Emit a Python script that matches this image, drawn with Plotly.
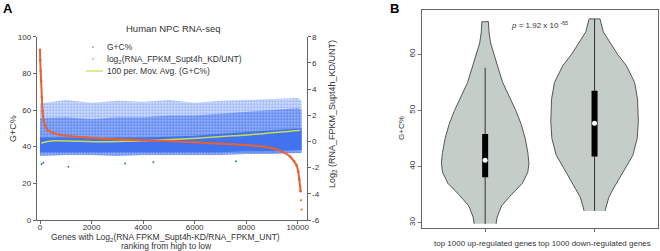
import plotly.graph_objects as go

W, H = 660, 251
FONT = "Liberation Sans, Arial, sans-serif"
TXT = "#333333"

# ---------------- Panel A data ----------------
# G+C% point cloud summarised per rank bin (edges of the cloud / dense core)
cloud_rank = [0, 1000, 2000, 3000, 4000, 5000, 6000, 7000, 8000, 9000, 10000, 10150]
gc_top = [63.5, 65.5, 64.0, 65.0, 64.5, 65.5, 64.0, 65.0, 65.5, 66.0, 66.5, 65.0]
gc_mid_top = [55.5, 56.0, 55.0, 56.0, 56.0, 57.0, 57.0, 58.0, 59.0, 60.0, 61.0, 60.0]
gc_core_top = [45.0, 45.0, 44.5, 45.0, 45.0, 45.5, 46.0, 47.0, 48.0, 49.0, 50.0, 50.0]
gc_core_bot = [37.0, 37.0, 37.0, 37.0, 37.0, 37.0, 37.0, 37.0, 37.5, 37.5, 38.0, 38.0]
gc_bottom = [35.0, 35.5, 35.5, 35.0, 35.5, 35.5, 35.5, 35.5, 36.0, 36.0, 36.5, 36.5]
gc_out_rank = [60, 130, 1100, 3300, 4400, 7600]
gc_out = [30.5, 31.2, 29.0, 30.8, 31.5, 32.0]

# log2(KD/UNT) sorted from high to low
lfc_rank = [0, 10, 25, 45, 70, 100, 140, 200, 300, 500, 800, 1200, 1800, 2500, 3500,
            5000, 6000, 7000, 7500, 8000, 8700, 9000, 9400, 9700, 9850, 9950, 10020,
            10060, 10090, 10110]
lfc = [7.0, 6.2, 5.4, 4.6, 3.4, 2.3, 1.6, 1.2, 0.85, 0.65, 0.5, 0.4, 0.3, 0.2, 0.13,
       0.03, -0.07, -0.17, -0.22, -0.28, -0.4, -0.5, -0.78, -1.15, -1.5, -1.8, -2.3,
       -2.9, -3.4, -3.8]
lfc_out_rank = [10130, 10150]
lfc_out = [-4.5, -5.2]

# 100 per. moving average of G+C%
ma_rank = [50, 500, 1500, 2500, 3500, 4500, 5500, 6500, 7500, 8500, 9500, 10100]
ma_gc = [42.0, 43.2, 43.0, 42.7, 43.0, 43.5, 44.2, 45.0, 45.9, 46.9, 48.2, 49.0]

xa_ticks = [0, 2000, 4000, 6000, 8000, 10000]
xa_text = ["0", "2000", "4000", "6000", "8000", "10000"]
ya_ticks = [0, 20, 40, 60, 80, 100]
y2_ticks = [-6, -4, -2, 0, 2, 4, 6, 8]
y2_text = ["-6", "-4", "-2", "0", "2", "4", "6", "8"]

# ---------------- Panel B data ----------------
categories = ["top 1000 up-regulated genes", "top 1000 down-regulated genes"]
v1_gc = [29.8, 31, 33, 35, 37, 39, 40.6, 42.5, 45, 47.5, 50, 52.5, 55, 57.5, 60, 62, 64, 65.8]
v1_hw = [0.10, 0.11, 0.15, 0.24, 0.34, 0.39, 0.40, 0.39, 0.366, 0.33, 0.28, 0.22, 0.16,
         0.12, 0.08, 0.05, 0.035, 0.03]
v2_gc = [32.1, 33, 34.5, 36, 39, 42, 45, 48, 52, 55, 58, 60, 62, 64, 66.3]
v2_hw = [0.096, 0.107, 0.13, 0.17, 0.26, 0.35, 0.39, 0.40, 0.393, 0.366, 0.29, 0.21,
         0.145, 0.08, 0.05]
box_q1 = [38.1, 41.8]
box_med = [41.1, 47.7]
box_q3 = [45.8, 53.5]
whisk_lo = [29.8, 32.1]
whisk_hi = [57.6, 66.3]
yb_ticks = [30, 40, 50, 60]

BLUE = "#3b6ef0"
ORANGE = "#e8612f"
GREEN = "#cadb4e"
VIOLIN = "#c5cdc9"


def px(x):
    return x / W


def py(y):
    return 1 - y / H


def band(xs, lo, hi):
    return xs + xs[::-1], hi + lo[::-1]


fig = go.Figure()

# cloud layers
bx, by = band(cloud_rank, gc_bottom, gc_top)
fig.add_trace(go.Scatter(x=bx, y=by, fill="toself", mode="lines", line=dict(width=0),
                         fillpattern=dict(shape=".", fgcolor=BLUE,
                                          bgcolor="rgba(59,110,240,0.22)",
                                          size=3, solidity=0.4),
                         hoverinfo="skip", showlegend=False, xaxis="x", yaxis="y"))
bx, by = band(cloud_rank, gc_bottom, gc_mid_top)
fig.add_trace(go.Scatter(x=bx, y=by, fill="toself", mode="lines", line=dict(width=0),
                         fillpattern=dict(shape=".", fgcolor=BLUE,
                                          bgcolor="rgba(59,110,240,0.32)",
                                          size=3, solidity=0.5),
                         hoverinfo="skip", showlegend=False, xaxis="x", yaxis="y"))
bx, by = band(cloud_rank, gc_core_bot, gc_core_top)
fig.add_trace(go.Scatter(x=bx, y=by, fill="toself", mode="lines", line=dict(width=0),
                         fillcolor="rgba(59,110,240,0.9)",
                         hoverinfo="skip", showlegend=False, xaxis="x", yaxis="y"))
fig.add_trace(go.Scatter(x=gc_out_rank, y=gc_out, mode="markers",
                         marker=dict(size=2, color=BLUE), showlegend=False,
                         xaxis="x", yaxis="y"))

# log2 fold change
fig.add_trace(go.Scatter(x=lfc_rank, y=lfc, mode="lines+markers",
                         line=dict(color=ORANGE, width=2, shape="spline", smoothing=0.6),
                         marker=dict(size=2.5, color=ORANGE),
                         showlegend=False, xaxis="x", yaxis="y2"))
fig.add_trace(go.Scatter(x=lfc_out_rank, y=lfc_out, mode="markers",
                         marker=dict(size=2, color=ORANGE), showlegend=False,
                         xaxis="x", yaxis="y2"))
# moving average
fig.add_trace(go.Scatter(x=ma_rank, y=ma_gc, mode="lines",
                         line=dict(color=GREEN, width=1.5, shape="spline"),
                         showlegend=False, xaxis="x", yaxis="y"))

# ---------------- Panel B traces ----------------
for i, (gcs, hws) in enumerate([(v1_gc, v1_hw), (v2_gc, v2_hw)]):
    c = i + 1
    xs = [c + h for h in hws] + [c - h for h in hws[::-1]]
    ys = gcs + gcs[::-1]
    fig.add_trace(go.Scatter(x=xs, y=ys, fill="toself", mode="lines",
                             fillcolor=VIOLIN, line=dict(color="#555555", width=1),
                             showlegend=False, xaxis="x3", yaxis="y3", hoverinfo="skip"))
    fig.add_trace(go.Scatter(x=[c, c], y=[whisk_lo[i], whisk_hi[i]], mode="lines",
                             line=dict(color="#333333", width=1),
                             showlegend=False, xaxis="x3", yaxis="y3"))
    fig.add_trace(go.Scatter(x=[c, c], y=[box_q1[i], box_q3[i]], mode="lines",
                             line=dict(color="#000000", width=6),
                             showlegend=False, xaxis="x3", yaxis="y3"))
    fig.add_trace(go.Scatter(x=[c], y=[box_med[i]], mode="markers",
                             marker=dict(color="white", size=5),
                             showlegend=False, xaxis="x3", yaxis="y3"))

axis_common = dict(showgrid=False, zeroline=False, showline=True, linecolor="#666666",
                   linewidth=1, ticks="outside", ticklen=3, tickcolor="#666666",
                   automargin=False,
                   tickfont=dict(size=8, color=TXT, family=FONT))

fig.update_layout(
    width=W, height=H, margin=dict(l=0, r=0, t=0, b=0, autoexpand=False),
    paper_bgcolor="white", plot_bgcolor="white",
    font=dict(family=FONT, color=TXT, size=8),
    showlegend=False,
    xaxis=dict(domain=[px(36.7), px(306.5)], range=[-128, 10340], tickvals=xa_ticks,
               ticktext=xa_text, tickangle=0, anchor="y", ticklabelstandoff=-4,
               **axis_common),
    yaxis=dict(domain=[py(220), py(36.7)], range=[0, 100], tickvals=ya_ticks,
               anchor="x", **axis_common),
    yaxis2=dict(overlaying="y", side="right", range=[-6, 8], tickvals=y2_ticks,
                ticktext=y2_text, anchor="x", **axis_common),
    xaxis3=dict(domain=[px(421.7), px(658)], range=[0.42, 2.58], tickvals=[1, 2],
                ticktext=categories, tickangle=0, anchor="y3", mirror=True,
                ticklabelstandoff=5, **axis_common),
    yaxis3=dict(domain=[py(227.5), py(10)], range=[29.14, 67.89], tickvals=yb_ticks,
                tickangle=-90, anchor="x3", mirror=True, **axis_common),
)

ann = []


def add_text(x, y, text, size=8, angle=0, xanchor="center", bold=False):
    ann.append(dict(x=px(x), y=py(y), xref="paper", yref="paper", text=text,
                    showarrow=False, textangle=angle, xanchor=xanchor, yanchor="middle",
                    font=dict(size=size, color="#000000" if bold else TXT, family=FONT)))


add_text(8, 9, "<b>A</b>", size=13, bold=True)
add_text(394, 9, "<b>B</b>", size=13, bold=True)
add_text(173, 28, "Human NPC RNA-seq", size=9.5)
add_text(13, 128, "G+C%", size=9, angle=-90)
add_text(332, 114, "Log<sub>2</sub> (RNA_FPKM_Supt4h_KD/UNT)", size=9, angle=-90)
add_text(165, 237, "Genes with Log<sub>2</sub>(RNA FPKM_Supt4h-KD/RNA_FPKM_UNT)", size=8.5)
add_text(166, 246, "ranking from high to low", size=8.5)
add_text(105, 47, "G+C%", size=8.5, xanchor="left")
add_text(105, 59, "log<sub>2</sub>(RNA_FPKM_Supt4h_KD/UNT)", size=8.5, xanchor="left")
add_text(105, 71, "100 per. Mov. Avg. (G+C%)", size=8.5, xanchor="left")
add_text(539, 25, "<i>p</i> = 1.92 x 10<sup> -65</sup>", size=8)
add_text(401, 128, "G+C%", size=8, angle=-90)

shapes = [
    dict(type="circle", xref="paper", yref="paper", x0=px(92.2), x1=px(93.8),
         y0=py(47.8), y1=py(46.2), fillcolor=BLUE, line=dict(width=0)),
    dict(type="circle", xref="paper", yref="paper", x0=px(92.2), x1=px(93.8),
         y0=py(59.8), y1=py(58.2), fillcolor=ORANGE, line=dict(width=0)),
    dict(type="line", xref="paper", yref="paper", x0=px(86), x1=px(103),
         y0=py(71), y1=py(71), line=dict(color=GREEN, width=1.2)),
]
fig.update_layout(annotations=ann, shapes=shapes)

fig.write_html("out.html",
               config={"displayModeBar": False, "staticPlot": True},
               post_script="document.body.style.margin='0';"
                           "document.body.style.overflow='hidden';")
